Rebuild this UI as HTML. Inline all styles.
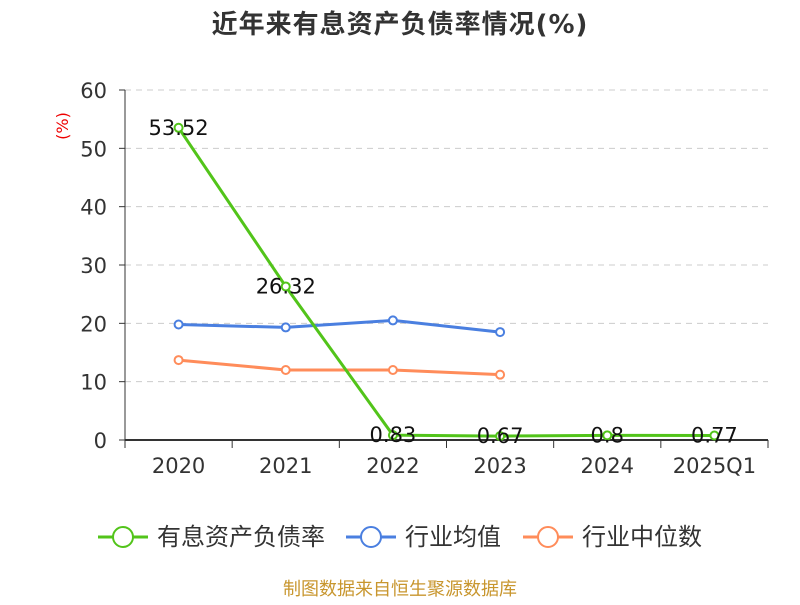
<!DOCTYPE html>
<html><head><meta charset="utf-8"><style>
body{margin:0;background:#fff;}
svg text{font-family:"DejaVu Sans","Noto Sans CJK SC",sans-serif;}
</style></head><body>
<svg id="c" width="800" height="600" xmlns="http://www.w3.org/2000/svg">
<text x="400" y="33" text-anchor="middle" font-size="26" font-weight="bold" fill="#333" letter-spacing="1">近年来有息资产负债率情况(%)</text>
<text x="68" y="126" font-size="16" fill="#e00" transform="rotate(-90 68 126)" text-anchor="middle">(%)</text>
<g id="grid"></g><g id="series"></g>
<g>
<g><line x1="98" y1="537" x2="148" y2="537" stroke="#52c41a" stroke-width="3"/><circle cx="123" cy="537" r="10" fill="#fff" stroke="#52c41a" stroke-width="2"/><text x="157" y="545" font-size="24" fill="#333">有息资产负债率</text></g>
<g><line x1="346" y1="537" x2="396" y2="537" stroke="#4a7fe0" stroke-width="3"/><circle cx="371" cy="537" r="10" fill="#fff" stroke="#4a7fe0" stroke-width="2"/><text x="405" y="545" font-size="24" fill="#333">行业均值</text></g>
<g><line x1="523" y1="537" x2="573" y2="537" stroke="#ff8c5a" stroke-width="3"/><circle cx="548" cy="537" r="10" fill="#fff" stroke="#ff8c5a" stroke-width="2"/><text x="582" y="545" font-size="24" fill="#333">行业中位数</text></g>
</g>
<text x="400" y="595" text-anchor="middle" font-size="18" fill="#c8962e">制图数据来自恒生聚源数据库</text>
</svg>
<script>
const categories=["2020","2021","2022","2023","2024","2025Q1"];
const debtRatio=[53.52,26.32,0.83,0.67,0.8,0.77];
const industryAvg=[19.8,19.3,20.5,18.5,null,null];
const industryMedian=[13.7,12.0,12.0,11.2,null,null];
const yTicks=[0,10,20,30,40,50,60];
const NS="http://www.w3.org/2000/svg";
const x0=125,x1=768,yb=440,yt=90,ymax=60;
const bw=(x1-x0)/categories.length;
const X=i=>x0+bw*(i+0.5);
const Y=v=>yb-(v/ymax)*(yb-yt);
function mk(p,tag,a){const e=document.createElementNS(NS,tag);for(const k in a)e.setAttribute(k,a[k]);p.appendChild(e);return e;}
const g=document.getElementById('grid'),s=document.getElementById('series');
yTicks.forEach(t=>{
 if(t>0){const l=mk(g,'line',{x1:x0,x2:x1,y1:Y(t),y2:Y(t),stroke:'#ccc','stroke-dasharray':'6,5'});
 
 }
 mk(g,'line',{x1:x0-6,x2:x0,y1:Y(t),y2:Y(t),stroke:'#333'});
 const tx=mk(g,'text',{x:x0-18,y:Y(t)+8,'text-anchor':'end','font-size':21,fill:'#333'});tx.textContent=t;
 
 
});
const ya=mk(g,'line',{x1:x0,x2:x0,y1:yt,y2:yb,stroke:'#333'});


const xa=mk(g,'line',{x1:x0,x2:x1,y1:yb,y2:yb,stroke:'#333','stroke-width':2});


for(let i=0;i<=categories.length;i++)mk(g,'line',{x1:x0+bw*i,x2:x0+bw*i,y1:yb,y2:yb+8,stroke:'#333'});
categories.forEach((c,i)=>{const t=mk(g,'text',{x:X(i),y:473,'text-anchor':'middle','font-size':21,fill:'#333'});t.textContent=c;
 
 });
function draw(data,color,name,labels){
 let d='';data.forEach((v,i)=>{if(v==null)return;d+=(d?'L':'M')+X(i)+','+Y(v);});
 const p=mk(s,'path',{d:d,fill:'none',stroke:color,'stroke-width':3});
 
 
 data.forEach((v,i)=>{if(v==null)return;
  const c=mk(s,'circle',{cx:X(i),cy:Y(v),r:4,fill:'#fff',stroke:color,'stroke-width':2});
  
  
  if(labels){const t=mk(s,'text',{x:X(i),y:Y(v)+7,'text-anchor':'middle','font-size':21,fill:'#111'});t.textContent=v;
   
   }
 });
}
draw(industryMedian,'#ff8c5a','industry-median',false);
draw(industryAvg,'#4a7fe0','industry-avg',false);
draw(debtRatio,'#52c41a','debt-ratio',true);
</script>
</body></html>
